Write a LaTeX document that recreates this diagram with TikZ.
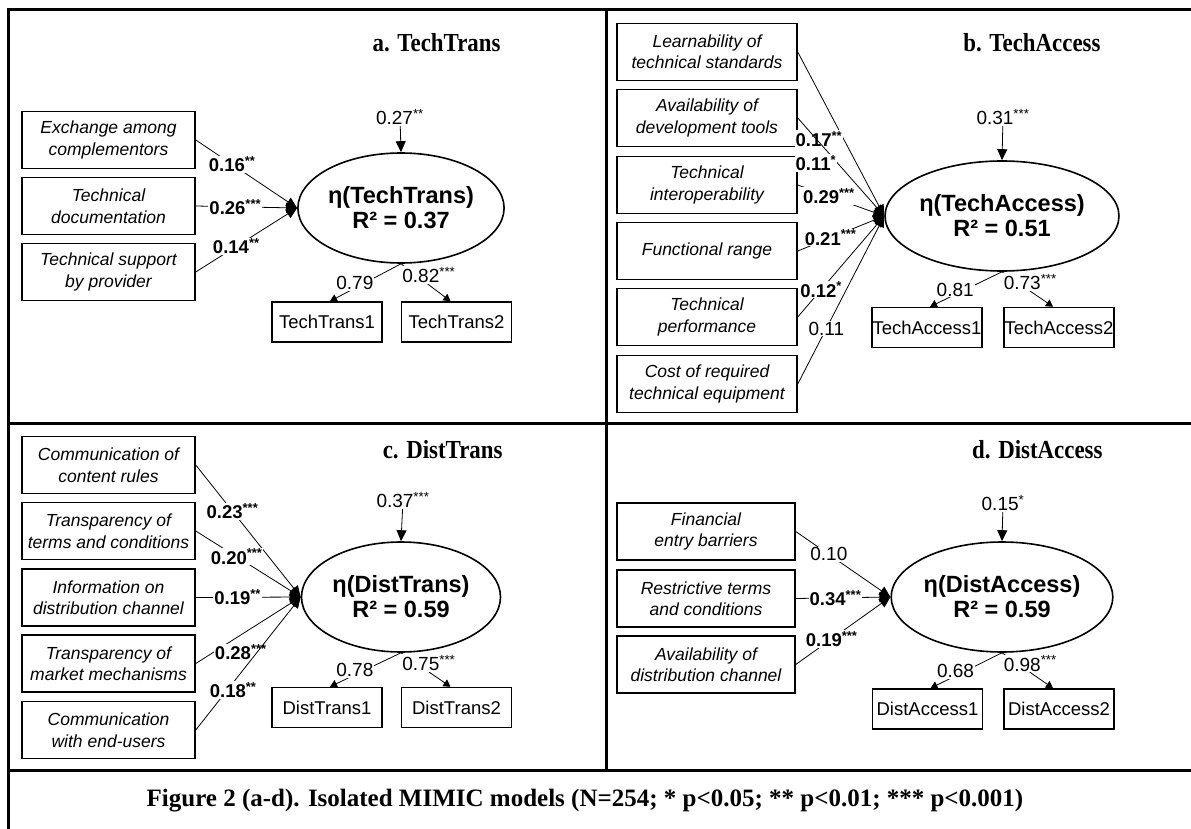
\documentclass[tikz,border=0pt]{standalone}
\usepackage{fontspec}
\setmainfont{Liberation Serif}[FakeStretch=0.88]
\setsansfont{Liberation Sans}
\newfontfamily\capfont{Liberation Serif}
\usetikzlibrary{shapes.geometric,arrows.meta}

\tikzset{
    frame/.style={line width=3pt},
    cause/.style={draw, line width=1.5pt, minimum width=173pt, minimum height=57pt, inner sep=0pt, align=center, font=\sffamily\itshape\fontsize{17.5}{21.5}\selectfont},
    widecause/.style={cause, minimum width=180pt},
    latent/.style={draw, ellipse, line width=1.6pt, minimum width=199pt, minimum height=110pt, inner sep=0pt, align=center, font=\sffamily\bfseries\fontsize{23.5}{25}\selectfont},
    indic/.style={draw, line width=1.5pt, minimum width=110pt, minimum height=40pt, inner sep=0pt, font=\sffamily\fontsize{18.5}{21}\selectfont},
    coef/.style={fill=white, inner sep=1pt, font=\sffamily\bfseries\fontsize{18.5}{20}\selectfont},
    load/.style={fill=white, inner sep=1pt, font=\sffamily\fontsize{19}{20}\selectfont},
    panel/.style={anchor=east, font=\bfseries\fontsize{26}{28}\selectfont},
    effect/.style={line width=0.8pt, -{Triangle[length=11pt,width=10pt]}},
    loading/.style={line width=0.8pt, -{Triangle[length=7pt,width=8pt]}},
}

\begin{document}
\begin{tikzpicture}[x=1pt,y=-1pt]
    \useasboundingbox (0,0) rectangle (1191,829);

    \draw[frame] (8,829) -- (8,10) -- (1191,10);
    \draw[frame] (606,10) -- (606,770);
    \draw[frame] (8,423) -- (1191,423);
    \draw[frame] (8,770) -- (1191,770);

    % a. TechTrans
    \node[panel] (ta) at (504,43) {a. TechTrans};
    \node[cause] (ta-c1) at (108.5,140) {Exchange among\\complementors};
    \node[cause] (ta-c2) at (108.5,206) {Technical\\documentation};
    \node[cause] (ta-c3) at (108.5,272) {Technical support\\by provider};
    \node[latent] (ta-eta) at (401,208) {η(TechTrans)\\R² = 0.37};
    \node[load] (ta-z) at (400,117) {0.27\textsuperscript{**}};
    \node[indic] (ta-i1) at (327,322) {TechTrans1};
    \node[indic] (ta-i2) at (456.5,322) {TechTrans2};

    \draw[effect] (ta-c1.east) -- node[coef, pos=.36] {0.16\textsuperscript{**}} (ta-eta.west);
    \draw[effect] (ta-c2.east) -- node[coef, pos=.39] {0.26\textsuperscript{***}} (ta-eta.west);
    \draw[effect] (ta-c3.east) -- node[coef, pos=.4] {0.14\textsuperscript{**}} (ta-eta.west);
    \draw[effect] (ta-z) -- (ta-eta.north);
    \draw[loading] (ta-eta.south) -- node[load, pos=.65, yshift=5pt] {0.79} ([xshift=3]ta-i1.north);
    \draw[loading] (ta-eta.south) -- node[load, pos=.3, xshift=13pt] {0.82\textsuperscript{***}} ([xshift=-6]ta-i2.north);

    % b. TechAccess
    \node[panel] (tb) at (1104,43) {b. TechAccess};
    \node[widecause] (tb-c1) at (707,52) {Learnability of\\technical standards};
    \node[widecause] (tb-c2) at (707,118) {Availability of\\development tools};
    \node[widecause] (tb-c3) at (707,185) {Technical\\interoperability};
    \node[widecause] (tb-c4) at (707,251) {Functional range};
    \node[widecause] (tb-c5) at (707,317) {Technical\\performance};
    \node[widecause] (tb-c6) at (707,384) {Cost of required\\technical equipment};
    \node[latent] (tb-eta) at (1002,216) {η(TechAccess)\\R² = 0.51};
    \node[load] (tb-z) at (1003,117) {0.31\textsuperscript{***}};
    \node[indic] (tb-i1) at (927,327.5) {TechAccess1};
    \node[indic] (tb-i2) at (1059,327.5) {TechAccess2};

    \draw[effect] (tb-c1.east) -- node[coef, pos=.53, anchor=east] {0.17\textsuperscript{**}} (tb-eta.west);
    \draw[effect] (tb-c2.east) -- node[coef, pos=.46, anchor=east] {0.11\textsuperscript{*}} (tb-eta.west);
    \draw[effect] (tb-c3.east) -- node[coef, pos=.36] {0.29\textsuperscript{***}} (tb-eta.west);
    \draw[effect] (tb-c4.east) -- node[coef, pos=.38] {0.21\textsuperscript{***}} (tb-eta.west);
    \draw[effect] (tb-c5.east) -- node[coef, pos=.27] {0.12\textsuperscript{*}} (tb-eta.west);
    \draw[effect] (tb-c6.east) -- node[load, pos=.33] {0.11} (tb-eta.west);
    \draw[effect] (tb-z) -- (tb-eta.north);
    \draw[loading] (tb-eta.south) -- node[load, pos=.65, yshift=5pt] {0.81} ([xshift=3]tb-i1.north);
    \draw[loading] (tb-eta.south) -- node[load, pos=.3, xshift=13pt] {0.73\textsuperscript{***}} ([xshift=-6]tb-i2.north);

    % c. DistTrans
    \node[panel] (tc) at (506,450) {c. DistTrans};
    \node[cause] (tc-c1) at (108.5,465) {Communication of\\content rules};
    \node[cause] (tc-c2) at (108.5,531) {Transparency of\\terms and conditions};
    \node[cause] (tc-c3) at (108.5,597.5) {Information on\\distribution channel};
    \node[cause] (tc-c4) at (108.5,663.5) {Transparency of\\market mechanisms};
    \node[cause] (tc-c5) at (108.5,730) {Communication\\with end-users};
    \node[latent] (tc-eta) at (401,597) {η(DistTrans)\\R² = 0.59};
    \node[load] (tc-z) at (403,500) {0.37\textsuperscript{***}};
    \node[indic] (tc-i1) at (327,707.5) {DistTrans1};
    \node[indic] (tc-i2) at (456.5,707.5) {DistTrans2};

    \draw[effect] (tc-c1.east) -- node[coef, pos=.35] {0.23\textsuperscript{***}} (tc-eta.west);
    \draw[effect] (tc-c2.east) -- node[coef, pos=.39] {0.20\textsuperscript{***}} (tc-eta.west);
    \draw[effect] (tc-c3.east) -- node[coef, pos=.4] {0.19\textsuperscript{**}} (tc-eta.west);
    \draw[effect] (tc-c4.east) -- node[coef, pos=.17, anchor=west] {0.28\textsuperscript{***}} (tc-eta.west);
    \draw[effect] (tc-c5.east) -- node[coef, pos=.3, xshift=6pt] {0.18\textsuperscript{**}} (tc-eta.west);
    \draw[effect] (tc-z) -- (tc-eta.north);
    \draw[loading] (tc-eta.south) -- node[load, pos=.65, yshift=5pt] {0.78} ([xshift=3]tc-i1.north);
    \draw[loading] (tc-eta.south) -- node[load, pos=.3, xshift=13pt] {0.75\textsuperscript{***}} ([xshift=-6]tc-i2.north);

    % d. DistAccess
    \node[panel] (td) at (1106,450) {d. DistAccess};
    \node[cause, minimum width=178pt] (td-c1) at (706,531.5) {Financial\\entry barriers};
    \node[cause, minimum width=178pt] (td-c2) at (706,598.5) {Restrictive terms\\and conditions};
    \node[cause, minimum width=178pt] (td-c3) at (706,664.5) {Availability of\\distribution channel};
    \node[latent] (td-eta) at (1002,597) {η(DistAccess)\\R² = 0.59};
    \node[load] (td-z) at (1003,503) {0.15\textsuperscript{*}};
    \node[indic] (td-i1) at (927.5,709) {DistAccess1};
    \node[indic] (td-i2) at (1059,709) {DistAccess2};

    \draw[effect] (td-c1.east) -- node[load, pos=.35] {0.10} (td-eta.west);
    \draw[effect] (td-c2.east) -- node[coef, pos=.42] {0.34\textsuperscript{***}} (td-eta.west);
    \draw[effect] (td-c3.east) -- node[coef, pos=.38] {0.19\textsuperscript{***}} (td-eta.west);
    \draw[effect] (td-z) -- (td-eta.north);
    \draw[loading] (td-eta.south) -- node[load, pos=.65, yshift=5pt] {0.68} ([xshift=3]td-i1.north);
    \draw[loading] (td-eta.south) -- node[load, pos=.3, xshift=13pt] {0.98\textsuperscript{***}} ([xshift=-6]td-i2.north);

    \node[font=\capfont\bfseries\fontsize{25}{28}\selectfont] (caption) at (585,801) {Figure 2 (a-d). Isolated MIMIC models (N=254; * p<0.05; ** p<0.01; *** p<0.001)};
\end{tikzpicture}
\end{document}
